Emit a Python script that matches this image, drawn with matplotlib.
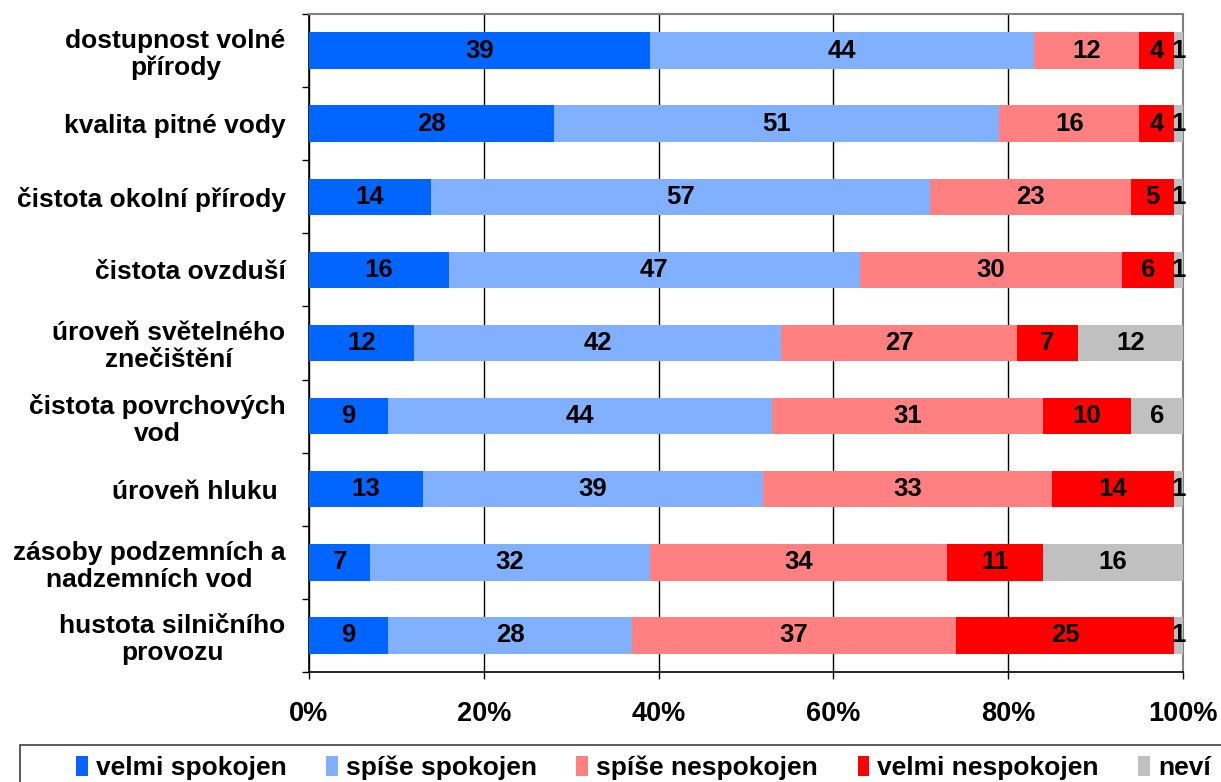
'''
stacked bar chart of satisfaction with the environment
'''
import numpy as np
import matplotlib.pyplot as plt
from matplotlib.patches import Rectangle

plt.rcParams['font.family'] = ['Liberation Sans', 'DejaVu Sans']
plt.rcParams['font.weight'] = 'bold'

categories = ['dostupnost volné\npřírody', 'kvalita pitné vody', 'čistota okolní přírody',
              'čistota ovzduší', 'úroveň světelného\nznečištění', 'čistota povrchových\nvod',
              'úroveň hluku ', 'zásoby podzemních a\nnadzemních vod', 'hustota silničního\nprovozu']
series_names = ['velmi spokojen', 'spíše spokojen', 'spíše nespokojen', 'velmi nespokojen', 'neví']
velmi_spokojen = [39, 28, 14, 16, 12, 9, 13, 7, 9]
spise_spokojen = [44, 51, 57, 47, 42, 44, 39, 32, 28]
spise_nespokojen = [12, 16, 23, 30, 27, 31, 33, 34, 37]
velmi_nespokojen = [4, 4, 5, 6, 7, 10, 14, 11, 25]
nevi = [1, 1, 1, 1, 12, 6, 1, 16, 1]
colors = ['#0066FF', '#80B0FF', '#FF8080', '#FF0000', '#C0C0C0']


def draw_chart(filename: str) -> None:
    '''
    draws the horizontal stacked bars and saves them
    '''
    data = np.array([velmi_spokojen, spise_spokojen, spise_nespokojen, velmi_nespokojen, nevi])
    fig = plt.figure(figsize=(12.21, 7.82), dpi=100)
    ax = fig.add_axes([309 / 1221, 1 - 672 / 782, (1183 - 309) / 1221, (672 - 14) / 782])
    index = np.arange(len(categories))
    left = np.zeros(len(categories))
    handles = []
    for i in range(len(series_names)):
        bars = ax.barh(index, data[i], 0.5, left=left, color=colors[i], label=series_names[i], zorder=3)
        ax.bar_label(bars, labels=[str(v) for v in data[i]], label_type='center',
                     fontsize=18.5, fontweight='bold', color='black')
        handles.append(bars)
        left += data[i]
    # axes setup
    ax.set_xlim(0, 100)
    ax.set_ylim(len(categories) - 0.5, -0.5)
    ax.set_xticks(np.arange(0, 101, 20))
    ax.set_xticklabels([f'{v}%' for v in range(0, 101, 20)], fontsize=19.5, fontweight='bold')
    ax.set_yticks(index)
    ax.set_yticklabels(categories, fontsize=19, fontweight='bold', multialignment='center',
                       linespacing=1.15)
    ax.set_yticks(np.arange(-0.5, len(categories)), minor=True)
    ax.tick_params(axis='y', which='major', length=0, pad=17)
    ax.tick_params(axis='y', which='minor', length=5, width=1, color='black', direction='out')
    ax.tick_params(axis='x', length=5, width=1, direction='out', pad=16)
    ax.grid(axis='x', color='black', linewidth=1, zorder=0)
    for side in ['top', 'right']:
        ax.spines[side].set_color('#808080')
        ax.spines[side].set_linewidth(1.5)
    for side in ['left', 'bottom']:
        ax.spines[side].set_color('black')
        ax.spines[side].set_linewidth(1.2)
    # legend box runs off the bottom of the image
    fig.patches.append(Rectangle((20 / 1221, -0.05), 1.0, 0.05 + 1 - 745 / 782, transform=fig.transFigure,
                                 fill=False, edgecolor='#404040', linewidth=1.2))
    fig.legend(handles=handles, loc='center', bbox_to_anchor=(0.527, 1 - 768 / 782), ncol=5,
               frameon=False, handlelength=0.45, handleheight=0.8, handletextpad=0.3,
               columnspacing=1.5, prop={'weight': 'bold', 'size': 19})
    plt.savefig(filename)


draw_chart('out.png')
